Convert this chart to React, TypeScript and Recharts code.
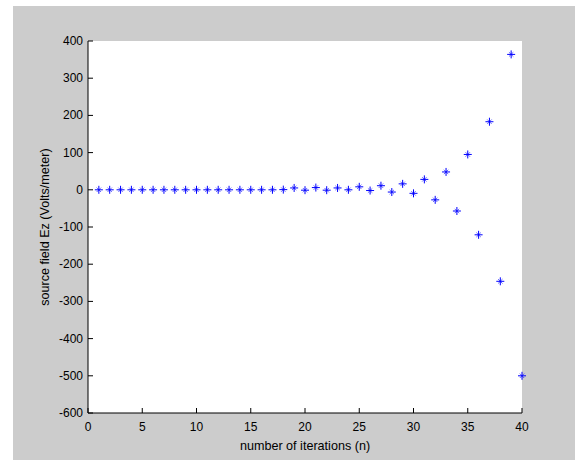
import React from 'react';
import { ScatterChart, Scatter, XAxis, YAxis, CartesianGrid } from 'recharts';

// number of iterations n and the source field Ez
const ITERATIONS = [
  1, 2, 3, 4, 5, 6, 7, 8, 9, 10,
  11, 12, 13, 14, 15, 16, 17, 18, 19, 20,
  21, 22, 23, 24, 25, 26, 27, 28, 29, 30,
  31, 32, 33, 34, 35, 36, 37, 38, 39, 40,
];
const EZ = [
  0, 0, 0, 0, 0, 0, 0, 0, 0, 0,
  0, 0, 0, 0, 0, 0, 0, 0.5, 5, -1,
  6, -1, 5, 0, 8, -2, 11, -6, 16, -9.5,
  28, -27, 48, -57, 95, -121, 183, -246, 364, -500,
];
const X_TICKS = [0, 5, 10, 15, 20, 25, 30, 35, 40];
const Y_TICKS = [-600, -500, -400, -300, -200, -100, 0, 100, 200, 300, 400];

const TITLE = 'plot of source v/s n for square MSA';
const X_LABEL = 'number of iterations (n)';
const Y_LABEL = 'source field Ez (Volts/meter)';

const data = ITERATIONS.map((n, i) => ({ n, ez: EZ[i] }));

const FONT = '"Liberation Sans", Arial, Helvetica, sans-serif';
const TICK_LEN = 5;

const BottomTick = ({ x, y, payload }: any) => (
  <g>
    <line x1={x} y1={y} x2={x} y2={y - TICK_LEN} stroke="#000" />
    <text x={x} y={y + 18} textAnchor="middle" fontSize={12} fontFamily={FONT} fill="#000">
      {payload.value}
    </text>
  </g>
);

const LeftTick = ({ x, y, payload }: any) => (
  <g>
    <line x1={x} y1={y} x2={x + TICK_LEN} y2={y} stroke="#000" />
    <text x={x - 5} y={y + 4} textAnchor="end" fontSize={12} fontFamily={FONT} fill="#000">
      {payload.value}
    </text>
  </g>
);

const TopTick = ({ x, y }: any) => (
  <line x1={x} y1={y} x2={x} y2={y + TICK_LEN} stroke="#000" />
);

const RightTick = ({ x, y }: any) => (
  <line x1={x} y1={y} x2={x - TICK_LEN} y2={y} stroke="#000" />
);

// MATLAB style '*' marker
const Star = ({ cx, cy }: any) => {
  if (cx == null || cy == null) return null;
  const r = 4;
  const d = 2.2;
  return (
    <g stroke="#0000ff" strokeWidth={1}>
      <line x1={cx - r} y1={cy} x2={cx + r} y2={cy} />
      <line x1={cx} y1={cy - r} x2={cx} y2={cy + r} />
      <line x1={cx - d} y1={cy - d} x2={cx + d} y2={cy + d} strokeOpacity={0.6} />
      <line x1={cx - d} y1={cy + d} x2={cx + d} y2={cy - d} strokeOpacity={0.6} />
    </g>
  );
};

export default function App() {
  return (
    <div style={{ position: 'absolute', left: 13, top: 6, width: 562, height: 454, background: '#cccccc' }}>
      <ScatterChart
        width={562}
        height={454}
        margin={{ top: 35, right: 53, bottom: 0, left: 0 }}
      >
        <CartesianGrid fill="#ffffff" horizontal={false} vertical={false} />
        <XAxis
          xAxisId="bottom"
          dataKey="n"
          type="number"
          domain={[0, 40]}
          ticks={X_TICKS}
          interval={0}
          height={47}
          tickSize={0}
          tickMargin={0}
          tickLine={false}
          axisLine={{ stroke: '#000' }}
          tick={<BottomTick />}
          label={{
            content: ({ viewBox }: any) => (
              <text
                x={viewBox.x + viewBox.width / 2}
                y={viewBox.y + 37}
                textAnchor="middle"
                fontSize={12.6}
                fontFamily={FONT}
                fill="#000"
              >
                {X_LABEL}
              </text>
            ),
          }}
        />
        <XAxis
          xAxisId="top"
          orientation="top"
          type="number"
          domain={[0, 40]}
          ticks={X_TICKS}
          interval={0}
          height={0}
          tickSize={0}
          tickMargin={0}
          tickLine={false}
          axisLine={{ stroke: '#000' }}
          tick={<TopTick />}
          label={{
            content: ({ viewBox }: any) => (
              <text
                x={viewBox.x + viewBox.width / 2}
                y={viewBox.y - 15}
                textAnchor="middle"
                fontSize={13.2}
                fontFamily={FONT}
                fill="#000"
              >
                {TITLE}
              </text>
            ),
          }}
        />
        <YAxis
          yAxisId="left"
          dataKey="ez"
          type="number"
          domain={[-600, 400]}
          ticks={Y_TICKS}
          interval={0}
          width={75}
          tickSize={0}
          tickMargin={0}
          tickLine={false}
          axisLine={{ stroke: '#000' }}
          tick={<LeftTick />}
          label={{
            content: ({ viewBox }: any) => (
              <text
                transform={`translate(${viewBox.x + 36},${viewBox.y + viewBox.height / 2}) rotate(-90)`}
                textAnchor="middle"
                fontSize={12.6}
                fontFamily={FONT}
                fill="#000"
              >
                {Y_LABEL}
              </text>
            ),
          }}
        />
        <YAxis
          yAxisId="right"
          orientation="right"
          type="number"
          domain={[-600, 400]}
          ticks={Y_TICKS}
          interval={0}
          width={0}
          tickSize={0}
          tickMargin={0}
          tickLine={false}
          axisLine={{ stroke: '#000' }}
          tick={<RightTick />}
        />
        <Scatter
          xAxisId="bottom"
          yAxisId="left"
          data={data}
          shape={<Star />}
          isAnimationActive={false}
        />
      </ScatterChart>
    </div>
  );
}
